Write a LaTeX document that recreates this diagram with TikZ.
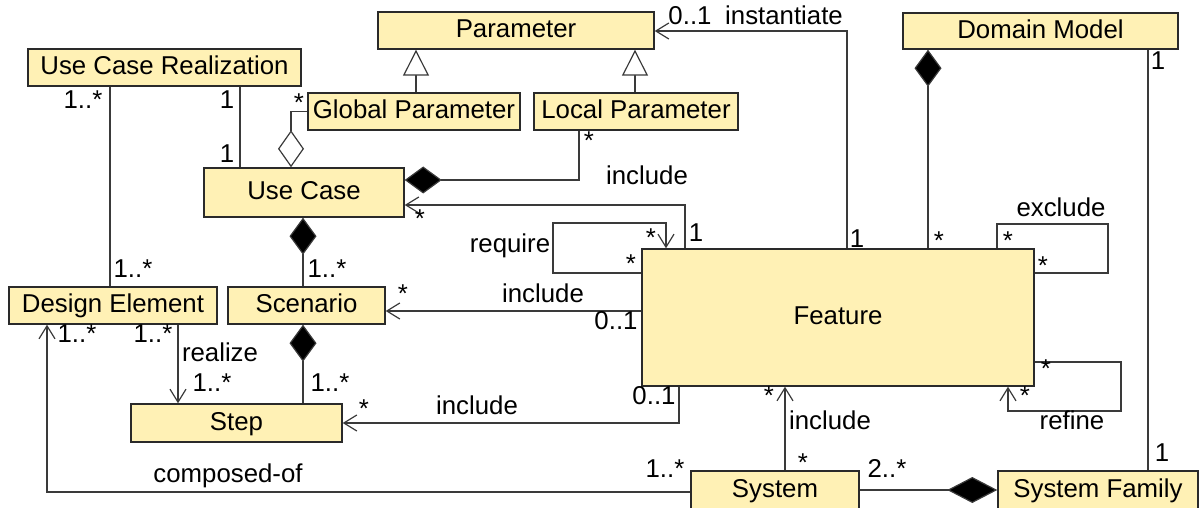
\documentclass[tikz,border=0pt]{standalone}
\usepackage{fontspec}
\setmainfont{Liberation Sans}
\usetikzlibrary{arrows.meta}
\definecolor{boxfill}{HTML}{FFF1B5}
\definecolor{boxline}{HTML}{2A2A2A}
\definecolor{conn}{HTML}{3A3A3A}
\newcommand{\lblfont}{\fontsize{12.9pt}{15pt}\selectfont}
\tikzset{
  box/.style={draw=boxline, fill=boxfill, line width=0.7pt, inner sep=0pt,
    font=\lblfont, text height=0.716em, text depth=0pt},
  lab/.style={inner sep=0pt, anchor=north, font=\lblfont, text height=0.716em, text depth=0pt},
  link/.style={draw=conn, line width=0.6pt},
  assoc/.style={link, -{Straight Barb[length=6.5pt,width=8pt,line width=0.6pt]}},
  gen/.style={link, -{Triangle[open,length=13pt,width=13pt,fill=white]}},
  comp/.style={link, {Diamond[length=18.5pt,width=13.5pt,fill=black]}-},
  bigcomp/.style={link, {Diamond[length=25pt,width=13pt,fill=black]}-},
  aggr/.style={link, {Diamond[open,length=18.5pt,width=13pt,fill=white]}-},
}
\begin{document}
\begin{tikzpicture}[x=0.5pt,y=-0.5pt]
\useasboundingbox (0,0) rectangle (1201,508);
% classes
\node[box, minimum width=138pt, minimum height=18.5pt] (Par) at (516,30.5) {Parameter};
\node[box, minimum width=137.5pt, minimum height=18pt] (DM) at (1040.5,31) {Domain Model};
\node[box, minimum width=136.5pt, minimum height=18.5pt] (UCR) at (164.5,67.5) {Use Case Realization};
\node[box, minimum width=106pt, minimum height=18.5pt] (GP) at (414,111.5) {Global Parameter};
\node[box, minimum width=102pt, minimum height=18.5pt] (LP) at (636,111.5) {Local Parameter};
\node[box, minimum width=100pt, minimum height=24.5pt] (UC) at (304,192.5) {Use Case};
\node[box, minimum width=196pt, minimum height=68.5pt] (Feat) at (838,317.5) {Feature};
\node[box, minimum width=104pt, minimum height=18.5pt] (DE) at (113,305.5) {Design Element};
\node[box, minimum width=78.5pt, minimum height=18.5pt] (Scen) at (306.5,305.5) {Scenario};
\node[box, minimum width=105.5pt, minimum height=19pt] (Step) at (236.5,423) {Step};
\node[box, minimum width=84pt, minimum height=19pt] (Sys) at (775,490) {System};
\node[box, minimum width=100pt, minimum height=19pt] (SF) at (1098,490) {System Family};
% helper coordinates
\coordinate (c1) at (416,0);
\coordinate (c2) at (635,0);
\coordinate (c3) at (240,0);
\coordinate (c4) at (110,0);
\coordinate (c5) at (291,0);
\coordinate (c6) at (579,180);
\coordinate (c7) at (685,205);
\coordinate (c8) at (553,223);
\coordinate (c9) at (666,273);
\coordinate (c10) at (0,311);
\coordinate (c11) at (679,423);
\coordinate (c12) at (303,0);
\coordinate (c13) at (178,0);
\coordinate (c14) at (47,492);
\coordinate (c15) at (785,0);
\coordinate (c16) at (1121,362);
\coordinate (c17) at (1008,411);
\coordinate (c18) at (997,224);
\coordinate (c19) at (1108,273);
\coordinate (c20) at (928,0);
\coordinate (c21) at (1148,0);
\coordinate (c22) at (0,490);
\coordinate (c23) at (847,31);
% connectors
\draw[gen] (GP.north -| c1) -- (Par.south -| c1);
\draw[gen] (LP.north -| c2) -- (Par.south -| c2);
\draw[link] (UCR.south -| c3) -- (UC.north -| c3);
\draw[link] (UCR.south -| c4) -- (DE.north -| c4);
\draw[aggr] (UC.north -| c5) |- (GP.west);
\draw[comp] (UC.east |- c6) -| (LP.south -| c6);
\draw[assoc] (Feat.north -| c7) |- (UC.east |- c7);
\draw[assoc] (Feat.west |- c9) -| (c8) -| (Feat.north -| c9);
\draw[assoc] (Feat.west |- c10) -- (Scen.east |- c10);
\draw[assoc] (Feat.south -| c11) |- (Step.east |- c11);
\draw[comp] (UC.south -| c12) -- (Scen.north -| c12);
\draw[comp] (Scen.south -| c12) -- (Step.north -| c12);
\draw[assoc] (DE.south -| c13) -- (Step.north -| c13);
\draw[assoc] (Sys.west |- c14) -| (DE.south -| c14);
\draw[assoc] (Sys.north -| c15) -- (Feat.south -| c15);
\draw[assoc] (Feat.east |- c16) -| (c16 |- c17) -| (Feat.south -| c17);
\draw[link] (Feat.north -| c18) |- (c19 |- c18) |- (Feat.east |- c19);
\draw[comp] (DM.south -| c20) -- (Feat.north -| c20);
\draw[link] (DM.south -| c21) -- (SF.north -| c21);
\draw[bigcomp] (SF.west |- c22) -- (Sys.east |- c22);
\draw[assoc] (Feat.north -| c23) |- (Par.east |- c23);
% labels
\node[lab] (m1) at (83,94) {1..*};
\node[lab] (m2) at (227,94) {1};
\node[lab] (m3) at (227,148) {1};
\node[lab] (m4) at (299,97) {*};
\node[lab] (m5) at (690,10) {0..1};
\node[lab] (t1) at (784,10) {instantiate};
\node[lab] (m6) at (589,135) {*};
\node[lab] (t2) at (647,170) {include};
\node[lab] (m7) at (420,213) {*};
\node[lab] (t3) at (510,238) {require};
\node[lab] (m8) at (651,232) {*};
\node[lab] (m9) at (696,227) {1};
\node[lab] (m10) at (857,233) {1};
\node[lab] (m11) at (939,235) {*};
\node[lab] (t4) at (1061,202) {exclude};
\node[lab] (m12) at (1008,235) {*};
\node[lab] (m13) at (1043,260) {*};
\node[lab] (m14) at (1158,55) {1};
\node[lab] (m15) at (133,263) {1..*};
\node[lab] (m16) at (327,263) {1..*};
\node[lab] (m17) at (403,288) {*};
\node[lab] (m18) at (77,328) {1..*};
\node[lab] (m19) at (153,328) {1..*};
\node[lab] (t5) at (220,347) {realize};
\node[lab] (m20) at (212,377) {1..*};
\node[lab] (m21) at (330,377) {1..*};
\node[lab] (m22) at (364,403) {*};
\node[lab] (t6) at (228,468) {composed-of};
\node[lab] (m23) at (631,258) {*};
\node[lab] (t7) at (543,288) {include};
\node[lab] (m24) at (616,315) {0..1};
\node[lab] (t8) at (477,400) {include};
\node[lab] (m25) at (654,390) {0..1};
\node[lab] (m26) at (769,390) {*};
\node[lab] (t9) at (830,415) {include};
\node[lab] (m27) at (803,457) {*};
\node[lab] (m28) at (665,463) {1..*};
\node[lab] (m29) at (1046,363) {*};
\node[lab] (m30) at (1025,390) {*};
\node[lab] (t10) at (1072,415) {refine};
\node[lab] (m31) at (887,463) {2..*};
\node[lab] (m32) at (1162,447) {1};
\end{tikzpicture}
\end{document}
